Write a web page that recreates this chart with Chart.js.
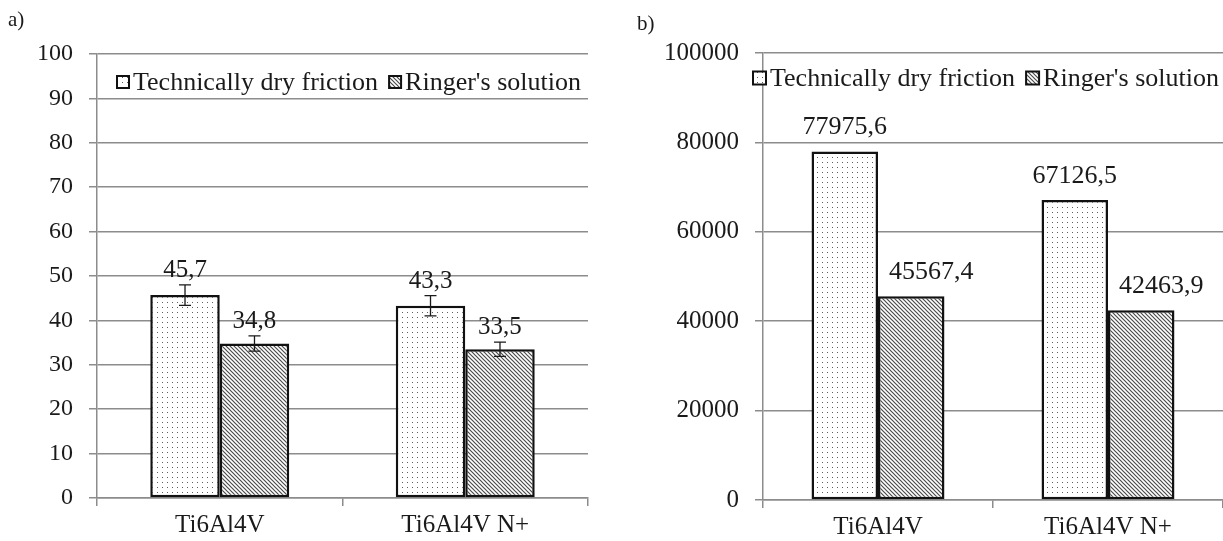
<!DOCTYPE html>
<html lang="en">
<head>
<meta charset="UTF-8">
<title>Ti6Al4V vs Ti6Al4V N+</title>
<script src="https://cdn.jsdelivr.net/npm/chart.js"></script>
<style>
  body {
    margin: 0;
    background: #fff;
    width: 1223px;
    height: 541px;
    position: relative;
    overflow: hidden;
    font-family: "Liberation Serif", serif;
    color: #1a1a1a;
  }
  .panel { position: absolute; top: 0; height: 541px; }
  #panelA { left: 0; width: 600px; }
  #panelB { left: 600px; width: 623px; }
  .tag { position: absolute; font-size: 21px; }
</style>
</head>
<body>
  <div class="panel" id="panelA"><canvas id="chartA" width="600" height="541"></canvas></div>
  <div class="panel" id="panelB"><canvas id="chartB" width="623" height="541"></canvas></div>
  <div class="tag" style="left:8px; top:7px;">a)</div>
  <div class="tag" style="left:637px; top:11px;">b)</div>

<script>
  // data
  const categories = ['Ti6Al4V', 'Ti6Al4V N+'];
  const seriesNames = ['Technically dry friction', "Ringer's solution"];

  // a) panel, with error bars
  const dryA = [45.7, 43.3];
  const ringerA = [34.8, 33.5];
  const dryErrA = [2.3, 2.3];
  const ringerErrA = [1.7, 1.6];
  const maxA = 100, stepA = 10;

  // b) panel
  const dryB = [77975.6, 67126.5];
  const ringerB = [45567.4, 42463.9];
  const maxB = 100000, stepB = 20000;

  const INK = '#1a1a1a';
  const GRID = '#8c8c8c';
  const SERIF = '"Liberation Serif", serif';

  Chart.defaults.font.family = SERIF;

  // fill patterns
  function dotPattern() {
    const c = document.createElement('canvas');
    c.width = 5; c.height = 5;
    const g = c.getContext('2d');
    g.fillStyle = '#fff';
    g.fillRect(0, 0, 5, 5);
    g.fillStyle = '#5e5e5e';
    g.fillRect(2, 2, 1, 1);
    return g.createPattern(c, 'repeat');
  }

  function hatchPattern() {
    const c = document.createElement('canvas');
    c.width = 4; c.height = 4;
    const g = c.getContext('2d');
    g.fillStyle = '#fff';
    g.fillRect(0, 0, 4, 4);
    g.strokeStyle = '#4a4a4a';
    g.lineWidth = 1.2;
    g.beginPath();
    for (const k of [-4, 0, 4]) {
      g.moveTo(k - 1, -1);
      g.lineTo(k + 5, 5);
    }
    g.stroke();
    return g.createPattern(c, 'repeat');
  }

  const fills = [dotPattern(), hatchPattern()];

  const fmt = v => v.toFixed(1).replace('.', ',');

  // error bars + value labels
  const barExtras = {
    id: 'barExtras',
    afterDatasetsDraw(chart, args, opts) {
      const ctx = chart.ctx;
      const y = chart.scales.y;
      ctx.save();
      chart.data.datasets.forEach((ds, i) => {
        const meta = chart.getDatasetMeta(i);
        meta.data.forEach((bar, j) => {
          const v = ds.data[j];
          let top = bar.y;
          if (ds.errors) {
            const e = ds.errors[j];
            const y1 = y.getPixelForValue(v + e);
            const y2 = y.getPixelForValue(v - e);
            ctx.strokeStyle = INK;
            ctx.lineWidth = 1.3;
            ctx.beginPath();
            ctx.moveTo(bar.x, y1); ctx.lineTo(bar.x, y2);
            ctx.moveTo(bar.x - 6, y1); ctx.lineTo(bar.x + 6, y1);
            ctx.moveTo(bar.x - 6, y2); ctx.lineTo(bar.x + 6, y2);
            ctx.stroke();
            top = y1;
          }
          ctx.fillStyle = INK;
          ctx.font = opts.font;
          ctx.textAlign = 'center';
          ctx.textBaseline = 'alphabetic';
          ctx.fillText(fmt(v), bar.x + (opts.shift[i] || 0), top - opts.gap);
        });
      });
      ctx.restore();
    }
  };

  // legend drawn inside the plot area
  const innerLegend = {
    id: 'innerLegend',
    afterDraw(chart, args, opts) {
      const ctx = chart.ctx;
      const a = chart.chartArea;
      let x = a.left + opts.dx;
      const cy = a.top + opts.dy;
      const s = opts.box;
      ctx.save();
      ctx.font = opts.font;
      ctx.textBaseline = 'middle';
      ctx.textAlign = 'left';
      seriesNames.forEach((name, i) => {
        ctx.fillStyle = fills[i];
        ctx.fillRect(x, cy - s / 2, s, s);
        ctx.strokeStyle = '#111';
        ctx.lineWidth = 2;
        ctx.strokeRect(x, cy - s / 2, s, s);
        x += s + 4;
        ctx.fillStyle = INK;
        ctx.fillText(name, x, cy + 1);
        x += ctx.measureText(name).width + opts.gap;
      });
      ctx.restore();
    }
  };

  function makeChart(id, cfg) {
    const datasets = [cfg.dry, cfg.ringer].map((vals, i) => ({
      label: seriesNames[i],
      data: vals,
      errors: cfg.errors ? cfg.errors[i] : null,
      backgroundColor: fills[i],
      borderColor: '#111',
      borderWidth: 2.5,
      borderSkipped: false,
      barPercentage: 1,
      categoryPercentage: cfg.catPct
    }));

    return new Chart(document.getElementById(id), {
      type: 'bar',
      data: { labels: categories, datasets },
      options: {
        responsive: false,
        animation: false,
        layout: { padding: { top: cfg.top, right: cfg.right, left: 0, bottom: 0 } },
        plugins: {
          legend: { display: false },
          tooltip: { enabled: false },
          barExtras: cfg.labels,
          innerLegend: cfg.legend
        },
        scales: {
          x: {
            grid: { display: true, drawOnChartArea: false, tickLength: 8, color: GRID, lineWidth: 1.5 },
            border: { display: true, color: GRID, width: 1.5 },
            ticks: { color: INK, font: { family: SERIF, size: cfg.xFont }, padding: 4 },
            afterFit: s => { s.height = cfg.xHeight; }
          },
          y: {
            min: 0,
            max: cfg.max,
            grid: { color: GRID, lineWidth: 1.5, tickLength: 8 },
            border: { display: true, color: GRID, width: 1.5 },
            ticks: {
              stepSize: cfg.step,
              color: INK,
              font: { family: SERIF, size: cfg.yFont },
              padding: 16,
              callback: v => String(v)
            },
            afterFit: s => { s.width = cfg.yWidth; }
          }
        }
      },
      plugins: [barExtras, innerLegend]
    });
  }

  function drawAll() {
    makeChart('chartA', {
      dry: dryA, ringer: ringerA, errors: [dryErrA, ringerErrA],
      max: maxA, step: stepA, catPct: 0.566,
      top: 54, right: 12, yWidth: 97, xHeight: 43,
      xFont: 25, yFont: 24,
      labels: { font: `25px ${SERIF}`, gap: 8, shift: [0, 0] },
      legend: { dx: 20, dy: 28, box: 12, gap: 11, font: `26px ${SERIF}` }
    });

    makeChart('chartB', {
      dry: dryB, ringer: ringerB, errors: null,
      max: maxB, step: stepB, catPct: 0.578,
      top: 53, right: 0, yWidth: 163, xHeight: 41,
      xFont: 25, yFont: 25,
      labels: { font: `26px ${SERIF}`, gap: 17, shift: [0, 20] },
      legend: { dx: -10, dy: 25, box: 13, gap: 11, font: `26px ${SERIF}` }
    });
  }

  // make sure the serif face is ready before the canvases paint text
  if (document.fonts && document.fonts.load) {
    document.fonts.load(`24px ${SERIF}`).then(drawAll, drawAll);
  } else {
    drawAll();
  }
</script>
</body>
</html>
